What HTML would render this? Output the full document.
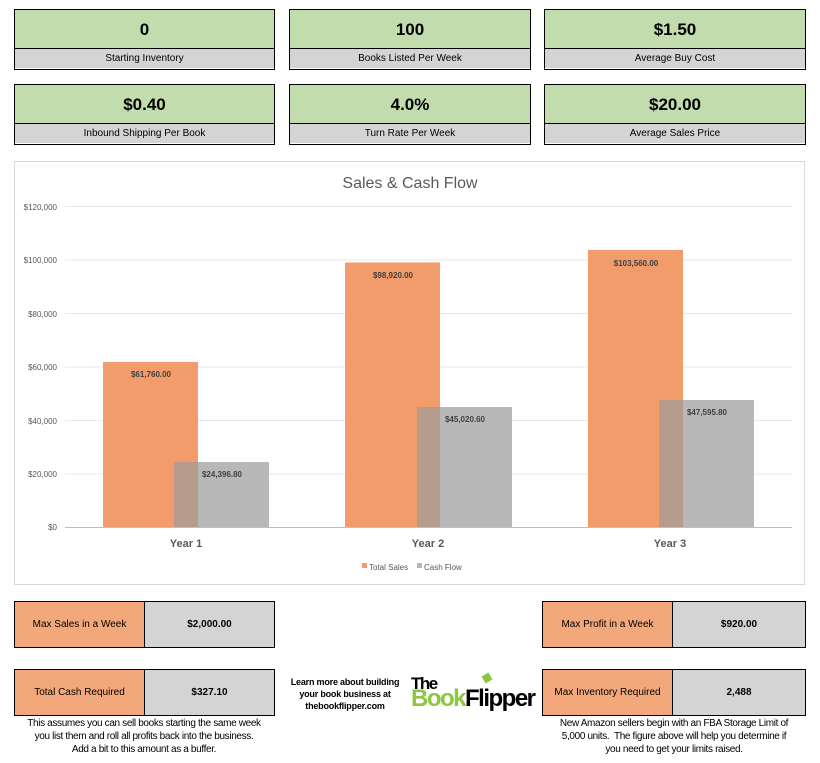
<!DOCTYPE html>
<html><head><style>
*{box-sizing:border-box}
body{margin:0;width:820px;height:763px;background:#fff;font-family:"Liberation Sans",Arial,sans-serif;position:relative;overflow:hidden}
.kb{position:absolute;height:61px;border:1.5px solid #000;}
.kb .v{height:39px;background:#c3dcad;border-bottom:1px solid #000;font-weight:bold;font-size:17px;text-align:center;line-height:39px}
.kb .l{height:19px;background:#d4d4d4;font-size:10px;text-align:center;line-height:20px}
.bb{position:absolute;height:47px;border:1px solid #000;display:flex;font-size:10px}
.bb .a{width:130px;background:#f2a87a;border-right:1px solid #000;display:flex;align-items:center;justify-content:center}
.bb .b{flex:1;background:#d4d4d4;display:flex;align-items:center;justify-content:center;font-weight:bold}
.note{position:absolute;font-size:10px;text-align:center;line-height:13px;letter-spacing:-0.35px;white-space:nowrap}
</style></head><body>
<div class="kb" style="left:14px;top:9px;width:261px"><div class="v">0</div><div class="l">Starting Inventory</div></div>
<div class="kb" style="left:289px;top:9px;width:242px"><div class="v">100</div><div class="l">Books Listed Per Week</div></div>
<div class="kb" style="left:544px;top:9px;width:262px"><div class="v">$1.50</div><div class="l">Average Buy Cost</div></div>
<div class="kb" style="left:14px;top:84px;width:261px"><div class="v">$0.40</div><div class="l">Inbound Shipping Per Book</div></div>
<div class="kb" style="left:289px;top:84px;width:242px"><div class="v">4.0%</div><div class="l">Turn Rate Per Week</div></div>
<div class="kb" style="left:544px;top:84px;width:262px"><div class="v">$20.00</div><div class="l">Average Sales Price</div></div>

<svg style="position:absolute;left:0;top:0" width="820" height="600">
<rect x="14.5" y="161.5" width="790" height="423" fill="#fff" stroke="#d9d9d9"/>
<text x="410" y="188" text-anchor="middle" font-size="16" fill="#595959" font-family="Liberation Sans, sans-serif">Sales &amp; Cash Flow</text>
<g stroke="#e8e8e8" stroke-width="1">
<line x1="65" x2="792" y1="206.5" y2="206.5"/><line x1="65" x2="792" y1="260" y2="260"/><line x1="65" x2="792" y1="313.5" y2="313.5"/><line x1="65" x2="792" y1="367" y2="367"/><line x1="65" x2="792" y1="420.5" y2="420.5"/><line x1="65" x2="792" y1="474" y2="474"/>
</g>
<g font-size="8" fill="#595959" text-anchor="end">
<text x="57" y="210">$120,000</text><text x="57" y="263">$100,000</text><text x="57" y="317">$80,000</text><text x="57" y="370">$60,000</text><text x="57" y="424">$40,000</text><text x="57" y="477">$20,000</text><text x="57" y="530">$0</text>
</g>
<g fill="#f19c6a">
<rect x="103" y="362" width="95" height="165"/><rect x="345" y="262.5" width="95" height="264.5"/><rect x="588" y="250" width="95" height="277"/>
</g>
<g fill="#b8b8b8">
<rect x="174" y="462" width="95" height="65"/><rect x="417" y="407" width="95" height="120"/><rect x="659" y="400" width="95" height="127"/>
</g>
<g fill="#b59c8d">
<rect x="174" y="462" width="24" height="65"/><rect x="417" y="407" width="23" height="120"/><rect x="659" y="400" width="24" height="127"/>
</g>
<line x1="65" x2="792" y1="527.5" y2="527.5" stroke="#bfbfbf"/>
<g font-size="8" font-weight="bold" fill="#404040" text-anchor="middle">
<text x="151" y="377">$61,760.00</text><text x="222" y="477">$24,396.80</text>
<text x="393" y="278">$98,920.00</text><text x="465" y="422">$45,020.60</text>
<text x="636" y="266">$103,560.00</text><text x="707" y="415">$47,595.80</text>
</g>
<g font-size="11" font-weight="bold" fill="#595959" text-anchor="middle">
<text x="186" y="547">Year 1</text><text x="428" y="547">Year 2</text><text x="670" y="547">Year 3</text>
</g>
<rect x="362" y="563" width="5" height="5" fill="#f19c6a"/><text x="369" y="570" font-size="8" fill="#595959">Total Sales</text>
<rect x="417" y="563" width="5" height="5" fill="#b8b8b8"/><text x="424" y="570" font-size="8" fill="#595959">Cash Flow</text>
</svg>

<div class="bb" style="left:14px;top:601px;width:261px"><div class="a">Max Sales in a Week</div><div class="b">$2,000.00</div></div>
<div class="bb" style="left:14px;top:669px;width:261px"><div class="a">Total Cash Required</div><div class="b">$327.10</div></div>
<div class="bb" style="left:542px;top:601px;width:264px"><div class="a">Max Profit in a Week</div><div class="b">$920.00</div></div>
<div class="bb" style="left:542px;top:669px;width:264px"><div class="a">Max Inventory Required</div><div class="b">2,488</div></div>
<div class="note" style="left:4px;top:717px;width:280px">This assumes you can sell books starting the same week<br>you list them and roll all profits back into the business.<br>Add a bit to this amount as a buffer.</div>
<div class="note" style="left:536px;top:717px;width:276px">New Amazon sellers begin with an FBA Storage Limit of<br>5,000 units.&nbsp; The figure above will help you determine if<br>you need to get your limits raised.</div>
<div class="note" style="left:285px;top:676px;width:120px;font-weight:bold;font-size:9px;line-height:12px;letter-spacing:-0.2px">Learn more about building<br>your book business at<br>thebookflipper.com</div>
<div style="position:absolute;left:411px;top:676px;font-weight:bold;font-size:17px;line-height:15px;letter-spacing:-1.5px">The<br><span style="color:#8dc63f;font-size:24px">Book</span><span style="font-size:24px">Flipper</span></div>
<div style="position:absolute;left:483px;top:674px;width:8px;height:8px;background:#8dc63f;transform:rotate(-30deg)"></div>
</body></html>
